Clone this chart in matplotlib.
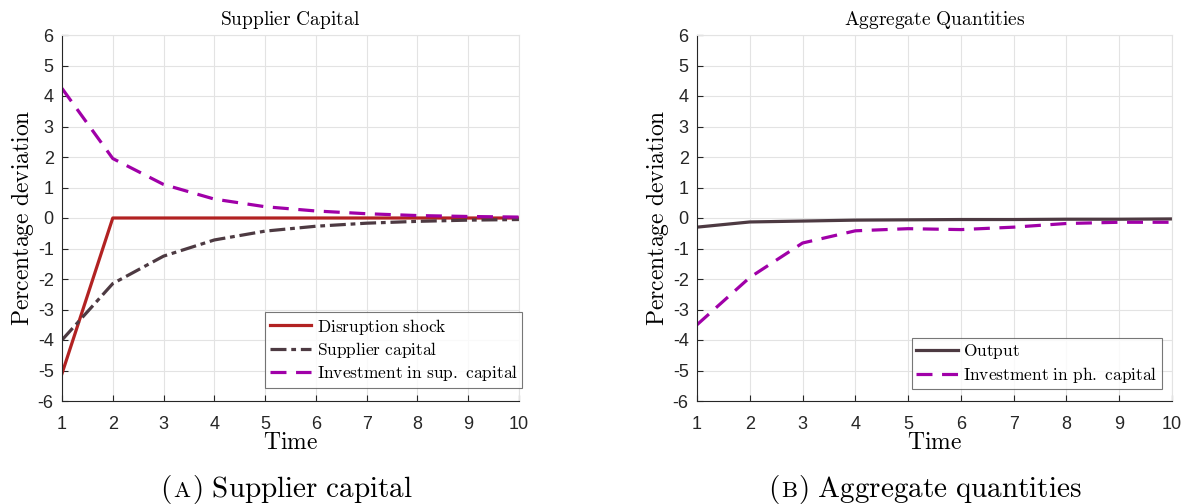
import matplotlib
matplotlib.use("Agg")
import matplotlib.pyplot as plt
import numpy as np

plt.rcParams["mathtext.fontset"] = "cm"
plt.rcParams["axes.unicode_minus"] = False
plt.rcParams["font.family"] = ["Liberation Sans", "DejaVu Sans"]

time = [1, 2, 3, 4, 5, 6, 7, 8, 9, 10]

# Panel A: supplier capital responses
disruption_shock = [-5.1, 0, 0, 0, 0, 0, 0, 0, 0, 0]
supplier_capital = [-4.0, -2.15, -1.25, -0.72, -0.43, -0.27, -0.17, -0.11, -0.07, -0.05]
invest_sup_capital = [4.25, 1.95, 1.1, 0.62, 0.37, 0.23, 0.14, 0.08, 0.05, 0.03]

# Panel B: aggregate quantities
output = [-0.3, -0.13, -0.1, -0.07, -0.06, -0.05, -0.05, -0.04, -0.04, -0.03]
invest_ph_capital = [-3.5, -1.95, -0.82, -0.42, -0.35, -0.38, -0.3, -0.18, -0.14, -0.14]

yticks = list(range(-6, 7))

RED = "#b22222"
DARK = "#4d3a42"
PURPLE = "#a000a8"
SPINE = "#262626"

W, H = 1183, 504
fig = plt.figure(figsize=(W / 100, H / 100), dpi=100)


def tex(s):
    return r"$\mathrm{" + s.replace(" ", r"\ ") + "}$"


def setup(ax, title):
    ax.set_xlim(1, 10)
    ax.set_ylim(-6, 6)
    ax.set_xticks(time)
    ax.set_yticks(yticks)
    ax.grid(True, color="#e3e3e3", linewidth=0.8)
    ax.set_axisbelow(True)
    ax.tick_params(direction="in", length=4, labelsize=13, colors=SPINE,
                   top=False, right=False)
    ax.tick_params(axis="x", pad=11)
    ax.tick_params(axis="y", pad=6)
    for s in ax.spines.values():
        s.set_color(SPINE)
        s.set_linewidth(0.8)
    ax.spines["top"].set_color("#e3e3e3")
    ax.spines["right"].set_color("#e3e3e3")
    ax.set_title(tex(title), fontsize=14, pad=7)
    ax.set_xlabel(tex("Time"), fontsize=17, labelpad=-1)
    ax.set_ylabel(tex("Percentage deviation"), fontsize=17, labelpad=1)


legend_kw = dict(loc="lower right", fontsize=12.5, frameon=True, fancybox=False,
                 edgecolor="#555555", handlelength=2.4, handletextpad=0.3,
                 borderpad=0.25, labelspacing=0.2, borderaxespad=0.0)

# Left panel
ax1 = fig.add_axes([62 / W, 1 - 401 / H, (519 - 62) / W, (401 - 35) / H])
setup(ax1, "Supplier Capital")
ax1.plot(time, disruption_shock, color=RED, lw=2.3, label=tex("Disruption shock"))
ax1.plot(time, supplier_capital, color=DARK, lw=2.3, dashes=(5, 1.5, 1.5, 1.5),
         label=tex("Supplier capital"))
ax1.plot(time, invest_sup_capital, color=PURPLE, lw=2.3, dashes=(5, 3),
         label=tex("Investment in sup. capital"))
leg1 = ax1.legend(bbox_to_anchor=(1.007, 0.036), **legend_kw)
leg1.get_frame().set_linewidth(0.8)

# Right panel
ax2 = fig.add_axes([697 / W, 1 - 401 / H, (1172 - 697) / W, (401 - 35) / H])
setup(ax2, "Aggregate Quantities")
ax2.plot(time, output, color=DARK, lw=2.3, label=tex("Output"))
ax2.plot(time, invest_ph_capital, color=PURPLE, lw=2.3, dashes=(5, 3),
         label=tex("Investment in ph. capital"))
leg2 = ax2.legend(bbox_to_anchor=(0.979, 0.033), **legend_kw)
leg2.get_frame().set_linewidth(0.8)


# Sub-figure captions: "(A) ..." with a small-capital letter
def caption(x_left, y, letter, rest, size=21):
    renderer = fig.canvas.get_renderer()
    pieces = [(r"$\mathrm{(}$", size), (r"$\mathrm{" + letter + "}$", size * 0.78),
              (r"$\mathrm{)\ " + rest.replace(" ", r"\ ") + "}$", size)]
    x = x_left
    for txt, fs in pieces:
        t = fig.text(x, y, txt, fontsize=fs, ha="left", va="baseline",
                     transform=None)
        bb = t.get_window_extent(renderer)
        x += bb.width + 1


caption(160, H - 497, "A", "Supplier capital")
caption(768, H - 497, "B", "Aggregate quantities")

fig.savefig("out.png", dpi=100)
